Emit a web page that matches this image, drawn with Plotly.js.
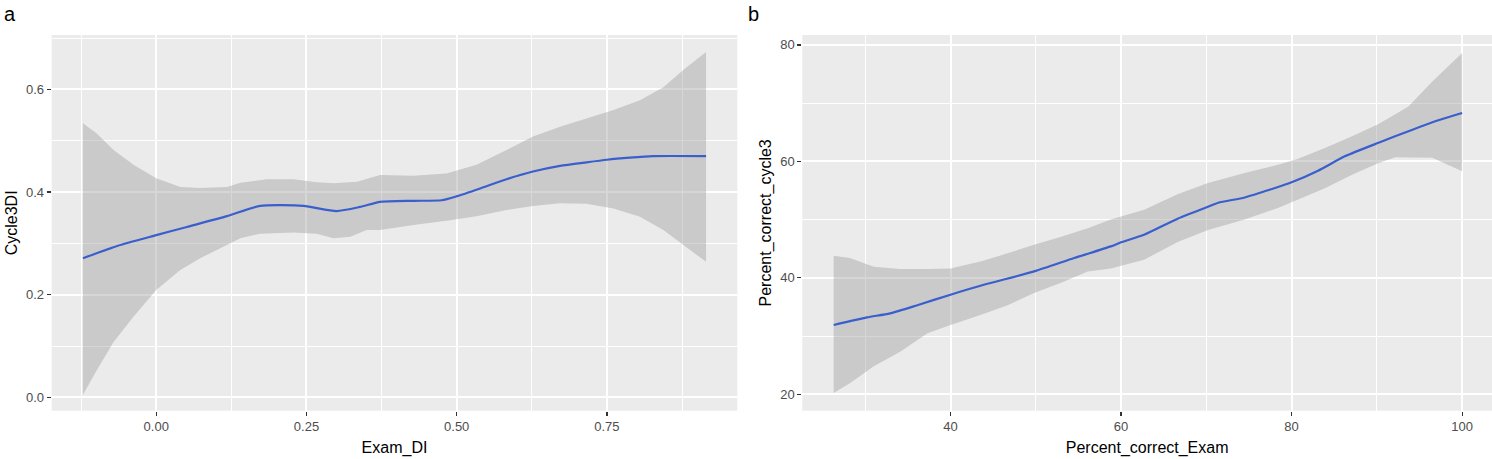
<!DOCTYPE html>
<html>
<head>
<meta charset="utf-8">
<script src="https://cdn.plot.ly/plotly-3.0.1.min.js"></script>
<style>html,body{margin:0;padding:0;background:#fff;}#chart{width:1492px;height:459px;}</style>
</head>
<body>
<div id="chart"></div>
<script>
// Panel a: Exam_DI vs Cycle3DI (loess fit with CI)
const aLineX = [-0.122, -0.065, 0.0, 0.051, 0.1175, 0.173, 0.245, 0.300, 0.339, 0.3725, 0.428, 0.475, 0.5007, 0.539, 0.583, 0.627, 0.672, 0.716, 0.75, 0.788, 0.827, 0.915];
const aLineY = [0.271, 0.295, 0.316, 0.332, 0.353, 0.373, 0.373, 0.363, 0.371, 0.381, 0.383, 0.384, 0.392, 0.407, 0.425, 0.440, 0.451, 0.458, 0.463, 0.467, 0.470, 0.470];
const aUpX = [-0.122, -0.099, -0.071, -0.038, 0.0, 0.040, 0.073, 0.1175, 0.140, 0.184, 0.228, 0.267, 0.295, 0.334, 0.3725, 0.428, 0.483, 0.533, 0.583, 0.627, 0.672, 0.716, 0.761, 0.805, 0.844, 0.877, 0.915];
const aUpY = [0.534, 0.514, 0.482, 0.453, 0.427, 0.410, 0.408, 0.410, 0.418, 0.425, 0.425, 0.419, 0.417, 0.420, 0.433, 0.432, 0.436, 0.453, 0.482, 0.508, 0.527, 0.544, 0.560, 0.579, 0.604, 0.638, 0.673];
const aLoX = [-0.122, -0.099, -0.071, -0.038, 0.0, 0.040, 0.073, 0.1175, 0.140, 0.173, 0.228, 0.267, 0.295, 0.323, 0.350, 0.3725, 0.428, 0.483, 0.533, 0.583, 0.627, 0.672, 0.716, 0.761, 0.805, 0.844, 0.877, 0.915];
const aLoY = [0.005, 0.053, 0.108, 0.157, 0.209, 0.248, 0.271, 0.297, 0.310, 0.319, 0.321, 0.319, 0.310, 0.313, 0.326, 0.326, 0.336, 0.344, 0.353, 0.365, 0.373, 0.378, 0.377, 0.368, 0.352, 0.326, 0.297, 0.264];

// Panel b: Percent_correct_Exam vs Percent_correct_cycle3
const bLineX = [26.3, 30.2, 32.9, 36.1, 40.0, 43.9, 49.8, 54.5, 58.8, 60.0, 62.7, 66.7, 70.2, 71.4, 74.5, 77.6, 80.0, 83.1, 86.3, 90.2, 94.1, 97.3, 100.0];
const bLineY = [31.9, 33.2, 33.9, 35.3, 37.1, 38.8, 41.1, 43.4, 45.4, 46.1, 47.4, 50.2, 52.2, 52.9, 53.8, 55.2, 56.4, 58.4, 60.9, 63.2, 65.4, 67.1, 68.3];
const bUpX = [26.3, 28.2, 31.0, 34.1, 37.3, 40.0, 43.5, 46.7, 49.8, 52.9, 56.1, 58.8, 62.7, 66.7, 70.2, 74.5, 78.4, 80.7, 83.9, 87.1, 90.2, 93.7, 96.5, 100.0];
const bUpY = [43.8, 43.4, 41.9, 41.5, 41.5, 41.6, 42.8, 44.2, 45.7, 47.0, 48.5, 50.0, 51.7, 54.4, 56.3, 58.0, 59.4, 60.4, 62.3, 64.3, 66.4, 69.4, 73.7, 78.6];
const bLoX = [26.3, 28.2, 31.0, 34.1, 37.3, 40.0, 43.5, 46.7, 49.8, 52.9, 56.1, 58.8, 62.7, 66.7, 70.2, 74.5, 78.4, 80.7, 83.9, 87.1, 90.2, 92.2, 96.5, 100.0];
const bLoY = [20.2, 21.9, 24.8, 27.3, 30.5, 31.9, 33.6, 35.3, 37.4, 39.1, 41.1, 41.6, 43.1, 46.2, 48.2, 50.0, 52.0, 53.4, 55.4, 57.7, 59.7, 60.7, 60.6, 58.3];

const aXTicks = [0, 0.25, 0.5, 0.75];
const aXTickText = ['0.00', '0.25', '0.50', '0.75'];
const aXMinor = [-0.125, 0.125, 0.375, 0.625, 0.875];
const aYTicks = [0, 0.2, 0.4, 0.6];
const aYTickText = ['0.0', '0.2', '0.4', '0.6'];
const aYMinor = [0.1, 0.3, 0.5, 0.7];
const bXTicks = [40, 60, 80, 100];
const bXMinor = [30, 50, 70, 90];
const bYTicks = [20, 40, 60, 80];
const bYMinor = [30, 50, 70];

function band(ux, uy, lx, ly) {
  return {x: ux.concat(lx.slice().reverse()), y: uy.concat(ly.slice().reverse())};
}
const aBand = band(aUpX, aUpY, aLoX, aLoY);
const bBand = band(bUpX, bUpY, bLoX, bLoY);

const bandStyle = {type: 'scatter', mode: 'lines', fill: 'toself', fillcolor: 'rgba(153,153,153,0.4)', line: {width: 0, color: 'rgba(0,0,0,0)'}, hoverinfo: 'skip', showlegend: false};
const lineStyle = {type: 'scatter', mode: 'lines', line: {color: '#3A5FCD', width: 2.2, shape: 'spline', smoothing: 0.6}, showlegend: false};

const traces = [
  Object.assign({}, bandStyle, {x: aBand.x, y: aBand.y, xaxis: 'x', yaxis: 'y'}),
  Object.assign({}, lineStyle, {x: aLineX, y: aLineY, xaxis: 'x', yaxis: 'y'}),
  Object.assign({}, bandStyle, {x: bBand.x, y: bBand.y, xaxis: 'x2', yaxis: 'y2'}),
  Object.assign({}, lineStyle, {x: bLineX, y: bLineY, xaxis: 'x2', yaxis: 'y2'})
];

const tickFont = {family: 'Liberation Sans, Arial, sans-serif', size: 13, color: '#4D4D4D'};
const titleFont = {family: 'Liberation Sans, Arial, sans-serif', size: 16, color: '#000000'};
function axis(minorVals, extra) {
  return Object.assign({
    showgrid: true, gridcolor: '#FFFFFF', gridwidth: 2,
    zeroline: false, showline: false,
    ticks: 'outside', ticklen: 4, tickwidth: 1.2, tickcolor: '#333333',
    tickfont: tickFont, tickmode: 'array', fixedrange: true,
    minor: {tickmode: 'array', tickvals: minorVals, showgrid: true, gridcolor: '#FFFFFF', gridwidth: 1, ticks: ''}
  }, extra);
}

const W = 1492, H = 459;
const layout = {
  width: W, height: H,
  margin: {l: 0, r: 0, t: 0, b: 0},
  paper_bgcolor: '#FFFFFF',
  plot_bgcolor: '#EBEBEB',
  showlegend: false,
  xaxis: axis(aXMinor, {domain: [51.7 / W, 737.3 / W], range: [-0.174, 0.967], tickvals: aXTicks, ticktext: aXTickText,
    title: {text: 'Exam_DI', font: titleFont, standoff: 8}, anchor: 'y'}),
  yaxis: axis(aYMinor, {domain: [1 - 410.7 / H, 1 - 35 / H], range: [-0.026, 0.706], tickvals: aYTicks, ticktext: aYTickText,
    title: {text: 'Cycle3DI', font: titleFont, standoff: 4}, anchor: 'x'}),
  xaxis2: axis(bXMinor, {domain: [802.3 / W, 1.0], range: [22.62, 103.5], tickvals: bXTicks, ticktext: bXTicks.map(String),
    title: {text: 'Percent_correct_Exam', font: titleFont, standoff: 8}, anchor: 'y2'}),
  yaxis2: axis(bYMinor, {domain: [1 - 410.7 / H, 1 - 35 / H], range: [17.18, 81.7], tickvals: bYTicks, ticktext: bYTicks.map(String),
    title: {text: 'Percent_correct_cycle3', font: titleFont, standoff: 4}, anchor: 'x2'}),
  annotations: [
    {text: 'a', xref: 'paper', yref: 'paper', x: 2 / W, y: 1 - 1 / H, xanchor: 'left', yanchor: 'top', showarrow: false,
      font: {family: 'Liberation Sans, Arial, sans-serif', size: 20, color: '#000'}},
    {text: 'b', xref: 'paper', yref: 'paper', x: 746 / W, y: 1 - 1 / H, xanchor: 'left', yanchor: 'top', showarrow: false,
      font: {family: 'Liberation Sans, Arial, sans-serif', size: 20, color: '#000'}}
  ]
};

Plotly.newPlot('chart', traces, layout, {displayModeBar: false, staticPlot: true});
</script>
</body>
</html>
